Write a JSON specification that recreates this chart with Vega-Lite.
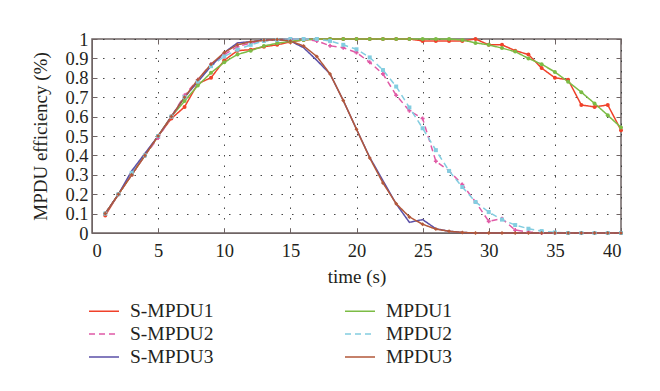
{
  "$schema": "https://vega.github.io/schema/vega-lite/v6.json",
  "autosize": {"type": "none"},
  "padding": {"left": 92, "top": 39, "right": 39, "bottom": 158},
  "width": 529,
  "height": 194,
  "background": "white",
  "config": {
    "font": "Liberation Serif",
    "view": {"stroke": "#6f6464", "strokeWidth": 1.5},
    "axis": {
      "labelFont": "Liberation Serif",
      "titleFont": "Liberation Serif",
      "labelFontSize": 18.5,
      "titleFontSize": 19,
      "titleFontWeight": "normal",
      "labelColor": "#231f20",
      "titleColor": "#231f20",
      "domainColor": "#6f6464",
      "tickColor": "#6f6464",
      "gridColor": "#333333",
      "gridDash": [1.5, 9],
      "gridOpacity": 0.9,
      "tickSize": -5,
      "labelPadding": 9
    },
    "legend": {
      "labelFont": "Liberation Serif",
      "labelFontSize": 19.5,
      "labelColor": "#231f20",
      "padding": 0
    }
  },
  "resolve": {"axis": {"x": "independent", "y": "independent"}},
  "data": {
    "values": [
      {"t":1,"k":"S-MPDU1","v":0.09},{"t":2,"k":"S-MPDU1","v":0.2},{"t":3,"k":"S-MPDU1","v":0.3},{"t":4,"k":"S-MPDU1","v":0.4},{"t":5,"k":"S-MPDU1","v":0.5},{"t":6,"k":"S-MPDU1","v":0.59},{"t":7,"k":"S-MPDU1","v":0.65},{"t":8,"k":"S-MPDU1","v":0.77},{"t":9,"k":"S-MPDU1","v":0.8},{"t":10,"k":"S-MPDU1","v":0.89},
      {"t":11,"k":"S-MPDU1","v":0.94},{"t":12,"k":"S-MPDU1","v":0.945},{"t":13,"k":"S-MPDU1","v":0.96},{"t":14,"k":"S-MPDU1","v":0.97},{"t":15,"k":"S-MPDU1","v":0.985},{"t":16,"k":"S-MPDU1","v":0.995},{"t":17,"k":"S-MPDU1","v":1},{"t":18,"k":"S-MPDU1","v":1},{"t":19,"k":"S-MPDU1","v":1},{"t":20,"k":"S-MPDU1","v":1},
      {"t":21,"k":"S-MPDU1","v":1},{"t":22,"k":"S-MPDU1","v":1},{"t":23,"k":"S-MPDU1","v":1},{"t":24,"k":"S-MPDU1","v":1},{"t":25,"k":"S-MPDU1","v":0.99},{"t":26,"k":"S-MPDU1","v":0.99},{"t":27,"k":"S-MPDU1","v":0.99},{"t":28,"k":"S-MPDU1","v":0.99},{"t":29,"k":"S-MPDU1","v":1},{"t":30,"k":"S-MPDU1","v":0.97},
      {"t":31,"k":"S-MPDU1","v":0.97},{"t":32,"k":"S-MPDU1","v":0.94},{"t":33,"k":"S-MPDU1","v":0.92},{"t":34,"k":"S-MPDU1","v":0.85},{"t":35,"k":"S-MPDU1","v":0.8},{"t":36,"k":"S-MPDU1","v":0.79},{"t":37,"k":"S-MPDU1","v":0.66},{"t":38,"k":"S-MPDU1","v":0.65},{"t":39,"k":"S-MPDU1","v":0.66},{"t":40,"k":"S-MPDU1","v":0.53},

      {"t":1,"k":"MPDU1","v":0.1},{"t":2,"k":"MPDU1","v":0.2},{"t":3,"k":"MPDU1","v":0.3},{"t":4,"k":"MPDU1","v":0.4},{"t":5,"k":"MPDU1","v":0.5},{"t":6,"k":"MPDU1","v":0.6},{"t":7,"k":"MPDU1","v":0.68},{"t":8,"k":"MPDU1","v":0.76},{"t":9,"k":"MPDU1","v":0.826},{"t":10,"k":"MPDU1","v":0.88},
      {"t":11,"k":"MPDU1","v":0.92},{"t":12,"k":"MPDU1","v":0.94},{"t":13,"k":"MPDU1","v":0.964},{"t":14,"k":"MPDU1","v":0.978},{"t":15,"k":"MPDU1","v":0.988},{"t":16,"k":"MPDU1","v":0.995},{"t":17,"k":"MPDU1","v":1},{"t":18,"k":"MPDU1","v":1},{"t":19,"k":"MPDU1","v":1},{"t":20,"k":"MPDU1","v":1},
      {"t":21,"k":"MPDU1","v":1},{"t":22,"k":"MPDU1","v":1},{"t":23,"k":"MPDU1","v":1},{"t":24,"k":"MPDU1","v":1},{"t":25,"k":"MPDU1","v":1},{"t":26,"k":"MPDU1","v":1},{"t":27,"k":"MPDU1","v":1},{"t":28,"k":"MPDU1","v":0.995},{"t":29,"k":"MPDU1","v":0.98},{"t":30,"k":"MPDU1","v":0.97},
      {"t":31,"k":"MPDU1","v":0.953},{"t":32,"k":"MPDU1","v":0.935},{"t":33,"k":"MPDU1","v":0.9},{"t":34,"k":"MPDU1","v":0.87},{"t":35,"k":"MPDU1","v":0.83},{"t":36,"k":"MPDU1","v":0.78},{"t":37,"k":"MPDU1","v":0.726},{"t":38,"k":"MPDU1","v":0.668},{"t":39,"k":"MPDU1","v":0.607},{"t":40,"k":"MPDU1","v":0.544},

      {"t":1,"k":"S-MPDU2","v":0.1},{"t":2,"k":"S-MPDU2","v":0.2},{"t":3,"k":"S-MPDU2","v":0.3},{"t":4,"k":"S-MPDU2","v":0.4},{"t":5,"k":"S-MPDU2","v":0.49},{"t":6,"k":"S-MPDU2","v":0.6},{"t":7,"k":"S-MPDU2","v":0.71},{"t":8,"k":"S-MPDU2","v":0.79},{"t":9,"k":"S-MPDU2","v":0.87},{"t":10,"k":"S-MPDU2","v":0.92},
      {"t":11,"k":"S-MPDU2","v":0.96},{"t":12,"k":"S-MPDU2","v":0.98},{"t":13,"k":"S-MPDU2","v":0.99},{"t":14,"k":"S-MPDU2","v":0.995},{"t":15,"k":"S-MPDU2","v":1},{"t":16,"k":"S-MPDU2","v":1},{"t":17,"k":"S-MPDU2","v":0.99},{"t":18,"k":"S-MPDU2","v":0.965},{"t":19,"k":"S-MPDU2","v":0.955},{"t":20,"k":"S-MPDU2","v":0.93},
      {"t":21,"k":"S-MPDU2","v":0.88},{"t":22,"k":"S-MPDU2","v":0.82},{"t":23,"k":"S-MPDU2","v":0.71},{"t":24,"k":"S-MPDU2","v":0.63},{"t":25,"k":"S-MPDU2","v":0.59},{"t":26,"k":"S-MPDU2","v":0.37},{"t":27,"k":"S-MPDU2","v":0.32},{"t":28,"k":"S-MPDU2","v":0.25},{"t":29,"k":"S-MPDU2","v":0.16},{"t":30,"k":"S-MPDU2","v":0.06},
      {"t":31,"k":"S-MPDU2","v":0.074},{"t":32,"k":"S-MPDU2","v":0.015},{"t":33,"k":"S-MPDU2","v":0.005},{"t":34,"k":"S-MPDU2","v":0},{"t":35,"k":"S-MPDU2","v":0},{"t":36,"k":"S-MPDU2","v":0},{"t":37,"k":"S-MPDU2","v":0},{"t":38,"k":"S-MPDU2","v":0},{"t":39,"k":"S-MPDU2","v":0},{"t":40,"k":"S-MPDU2","v":0},

      {"t":1,"k":"MPDU2","v":0.1},{"t":2,"k":"MPDU2","v":0.2},{"t":3,"k":"MPDU2","v":0.31},{"t":4,"k":"MPDU2","v":0.4},{"t":5,"k":"MPDU2","v":0.5},{"t":6,"k":"MPDU2","v":0.6},{"t":7,"k":"MPDU2","v":0.7},{"t":8,"k":"MPDU2","v":0.78},{"t":9,"k":"MPDU2","v":0.86},{"t":10,"k":"MPDU2","v":0.91},
      {"t":11,"k":"MPDU2","v":0.945},{"t":12,"k":"MPDU2","v":0.97},{"t":13,"k":"MPDU2","v":0.99},{"t":14,"k":"MPDU2","v":0.995},{"t":15,"k":"MPDU2","v":1},{"t":16,"k":"MPDU2","v":1},{"t":17,"k":"MPDU2","v":1},{"t":18,"k":"MPDU2","v":0.99},{"t":19,"k":"MPDU2","v":0.97},{"t":20,"k":"MPDU2","v":0.947},
      {"t":21,"k":"MPDU2","v":0.905},{"t":22,"k":"MPDU2","v":0.84},{"t":23,"k":"MPDU2","v":0.755},{"t":24,"k":"MPDU2","v":0.647},{"t":25,"k":"MPDU2","v":0.54},{"t":26,"k":"MPDU2","v":0.427},{"t":27,"k":"MPDU2","v":0.32},{"t":28,"k":"MPDU2","v":0.237},{"t":29,"k":"MPDU2","v":0.16},{"t":30,"k":"MPDU2","v":0.108},
      {"t":31,"k":"MPDU2","v":0.069},{"t":32,"k":"MPDU2","v":0.041},{"t":33,"k":"MPDU2","v":0.022},{"t":34,"k":"MPDU2","v":0.01},{"t":35,"k":"MPDU2","v":0.003},{"t":36,"k":"MPDU2","v":0},{"t":37,"k":"MPDU2","v":0},{"t":38,"k":"MPDU2","v":0},{"t":39,"k":"MPDU2","v":0},{"t":40,"k":"MPDU2","v":0},

      {"t":1,"k":"S-MPDU3","v":0.1},{"t":2,"k":"S-MPDU3","v":0.2},{"t":3,"k":"S-MPDU3","v":0.32},{"t":4,"k":"S-MPDU3","v":0.41},{"t":5,"k":"S-MPDU3","v":0.5},{"t":6,"k":"S-MPDU3","v":0.6},{"t":7,"k":"S-MPDU3","v":0.7},{"t":8,"k":"S-MPDU3","v":0.78},{"t":9,"k":"S-MPDU3","v":0.86},{"t":10,"k":"S-MPDU3","v":0.93},
      {"t":11,"k":"S-MPDU3","v":0.98},{"t":12,"k":"S-MPDU3","v":0.986},{"t":13,"k":"S-MPDU3","v":0.995},{"t":14,"k":"S-MPDU3","v":0.997},{"t":15,"k":"S-MPDU3","v":0.99},{"t":16,"k":"S-MPDU3","v":0.955},{"t":17,"k":"S-MPDU3","v":0.89},{"t":18,"k":"S-MPDU3","v":0.82},{"t":19,"k":"S-MPDU3","v":0.683},{"t":20,"k":"S-MPDU3","v":0.535},
      {"t":21,"k":"S-MPDU3","v":0.39},{"t":22,"k":"S-MPDU3","v":0.27},{"t":23,"k":"S-MPDU3","v":0.15},{"t":24,"k":"S-MPDU3","v":0.055},{"t":25,"k":"S-MPDU3","v":0.069},{"t":26,"k":"S-MPDU3","v":0.022},{"t":27,"k":"S-MPDU3","v":0.009},{"t":28,"k":"S-MPDU3","v":0.003},{"t":29,"k":"S-MPDU3","v":0},{"t":30,"k":"S-MPDU3","v":0},
      {"t":31,"k":"S-MPDU3","v":0},{"t":32,"k":"S-MPDU3","v":0},{"t":33,"k":"S-MPDU3","v":0},{"t":34,"k":"S-MPDU3","v":0},{"t":35,"k":"S-MPDU3","v":0},{"t":36,"k":"S-MPDU3","v":0},{"t":37,"k":"S-MPDU3","v":0},{"t":38,"k":"S-MPDU3","v":0},{"t":39,"k":"S-MPDU3","v":0},{"t":40,"k":"S-MPDU3","v":0},

      {"t":1,"k":"MPDU3","v":0.1},{"t":2,"k":"MPDU3","v":0.2},{"t":3,"k":"MPDU3","v":0.3},{"t":4,"k":"MPDU3","v":0.4},{"t":5,"k":"MPDU3","v":0.5},{"t":6,"k":"MPDU3","v":0.6},{"t":7,"k":"MPDU3","v":0.7},{"t":8,"k":"MPDU3","v":0.79},{"t":9,"k":"MPDU3","v":0.87},{"t":10,"k":"MPDU3","v":0.93},
      {"t":11,"k":"MPDU3","v":0.97},{"t":12,"k":"MPDU3","v":0.986},{"t":13,"k":"MPDU3","v":0.993},{"t":14,"k":"MPDU3","v":0.997},{"t":15,"k":"MPDU3","v":0.99},{"t":16,"k":"MPDU3","v":0.964},{"t":17,"k":"MPDU3","v":0.91},{"t":18,"k":"MPDU3","v":0.82},{"t":19,"k":"MPDU3","v":0.683},{"t":20,"k":"MPDU3","v":0.535},
      {"t":21,"k":"MPDU3","v":0.387},{"t":22,"k":"MPDU3","v":0.258},{"t":23,"k":"MPDU3","v":0.151},{"t":24,"k":"MPDU3","v":0.083},{"t":25,"k":"MPDU3","v":0.045},{"t":26,"k":"MPDU3","v":0.02},{"t":27,"k":"MPDU3","v":0.009},{"t":28,"k":"MPDU3","v":0.003},{"t":29,"k":"MPDU3","v":0},{"t":30,"k":"MPDU3","v":0},
      {"t":31,"k":"MPDU3","v":0},{"t":32,"k":"MPDU3","v":0},{"t":33,"k":"MPDU3","v":0},{"t":34,"k":"MPDU3","v":0},{"t":35,"k":"MPDU3","v":0},{"t":36,"k":"MPDU3","v":0},{"t":37,"k":"MPDU3","v":0},{"t":38,"k":"MPDU3","v":0},{"t":39,"k":"MPDU3","v":0},{"t":40,"k":"MPDU3","v":0}
    ]
  },
  "layer": [
    {
      "mark": {"type": "line", "strokeWidth": 1.5},
      "encoding": {
        "x": {
          "field": "t", "type": "quantitative",
          "scale": {"domain": [0, 40], "nice": false},
          "axis": {"values": [0, 5, 10, 15, 20, 25, 30, 35, 40], "title": "time (s)", "labelPadding": 13, "titlePadding": 8, "grid": true}
        },
        "y": {
          "field": "v", "type": "quantitative",
          "scale": {"domain": [0, 1], "nice": false},
          "axis": {"values": [0, 0.1, 0.2, 0.3, 0.4, 0.5, 0.6, 0.7, 0.8, 0.9, 1], "format": ".1~f", "title": "MPDU efficiency (%)", "titlePadding": 14, "grid": true}
        },
        "color": {
          "field": "k", "type": "nominal",
          "scale": {
            "domain": ["S-MPDU1", "MPDU1", "S-MPDU2", "MPDU2", "S-MPDU3", "MPDU3"],
            "range": ["#f0412a", "#7cbc45", "#e05aa6", "#82cde0", "#5b50a8", "#b3583a"]
          },
          "legend": {
            "title": null, "orient": "none", "legendX": 1, "legendY": 261,
            "columns": 2, "direction": "horizontal", "symbolType": "M-1.5,0H1.5",
            "symbolSize": 400, "symbolStrokeWidth": 1.5, "labelOffset": 15,
            "columnPadding": 128, "rowPadding": 2
          }
        },
        "strokeDash": {
          "field": "k", "type": "nominal",
          "scale": {
            "domain": ["S-MPDU1", "MPDU1", "S-MPDU2", "MPDU2", "S-MPDU3", "MPDU3"],
            "range": [[1, 0], [1, 0], [6, 4], [6, 4], [1, 0], [1, 0]]
          },
          "legend": {
            "title": null, "orient": "none", "legendX": 1, "legendY": 261,
            "columns": 2, "direction": "horizontal", "symbolType": "M-1.5,0H1.5",
            "symbolSize": 400, "symbolStrokeWidth": 1.5, "labelOffset": 15,
            "columnPadding": 128, "rowPadding": 2
          }
        }
      }
    },
    {
      "mark": {"type": "point", "filled": true, "size": 16, "opacity": 1},
      "encoding": {
        "x": {
          "field": "t", "type": "quantitative",
          "scale": {"domain": [0, 40], "nice": false},
          "axis": {"orient": "top", "values": [0, 5, 10, 15, 20, 25, 30, 35, 40], "labels": false, "title": null, "grid": false, "domain": false}
        },
        "y": {
          "field": "v", "type": "quantitative",
          "scale": {"domain": [0, 1], "nice": false},
          "axis": {"orient": "right", "values": [0, 0.1, 0.2, 0.3, 0.4, 0.5, 0.6, 0.7, 0.8, 0.9, 1], "labels": false, "title": null, "grid": false, "domain": false}
        },
        "fill": {
          "field": "k", "type": "nominal",
          "scale": {
            "domain": ["MPDU3", "S-MPDU3", "MPDU2", "S-MPDU2", "MPDU1", "S-MPDU1"],
            "range": ["#b3583a", "#5b50a8", "#82cde0", "#e05aa6", "#7cbc45", "#f0412a"]
          },
          "legend": null
        },
        "shape": {
          "field": "k", "type": "nominal",
          "scale": {
            "domain": ["MPDU3", "S-MPDU3", "MPDU2", "S-MPDU2", "MPDU1", "S-MPDU1"],
            "range": ["diamond", "M-1,-1L1,1M-1,1L1,-1", "square", "cross", "circle", "circle"]
          },
          "legend": null
        }
      }
    }
  ]
}
